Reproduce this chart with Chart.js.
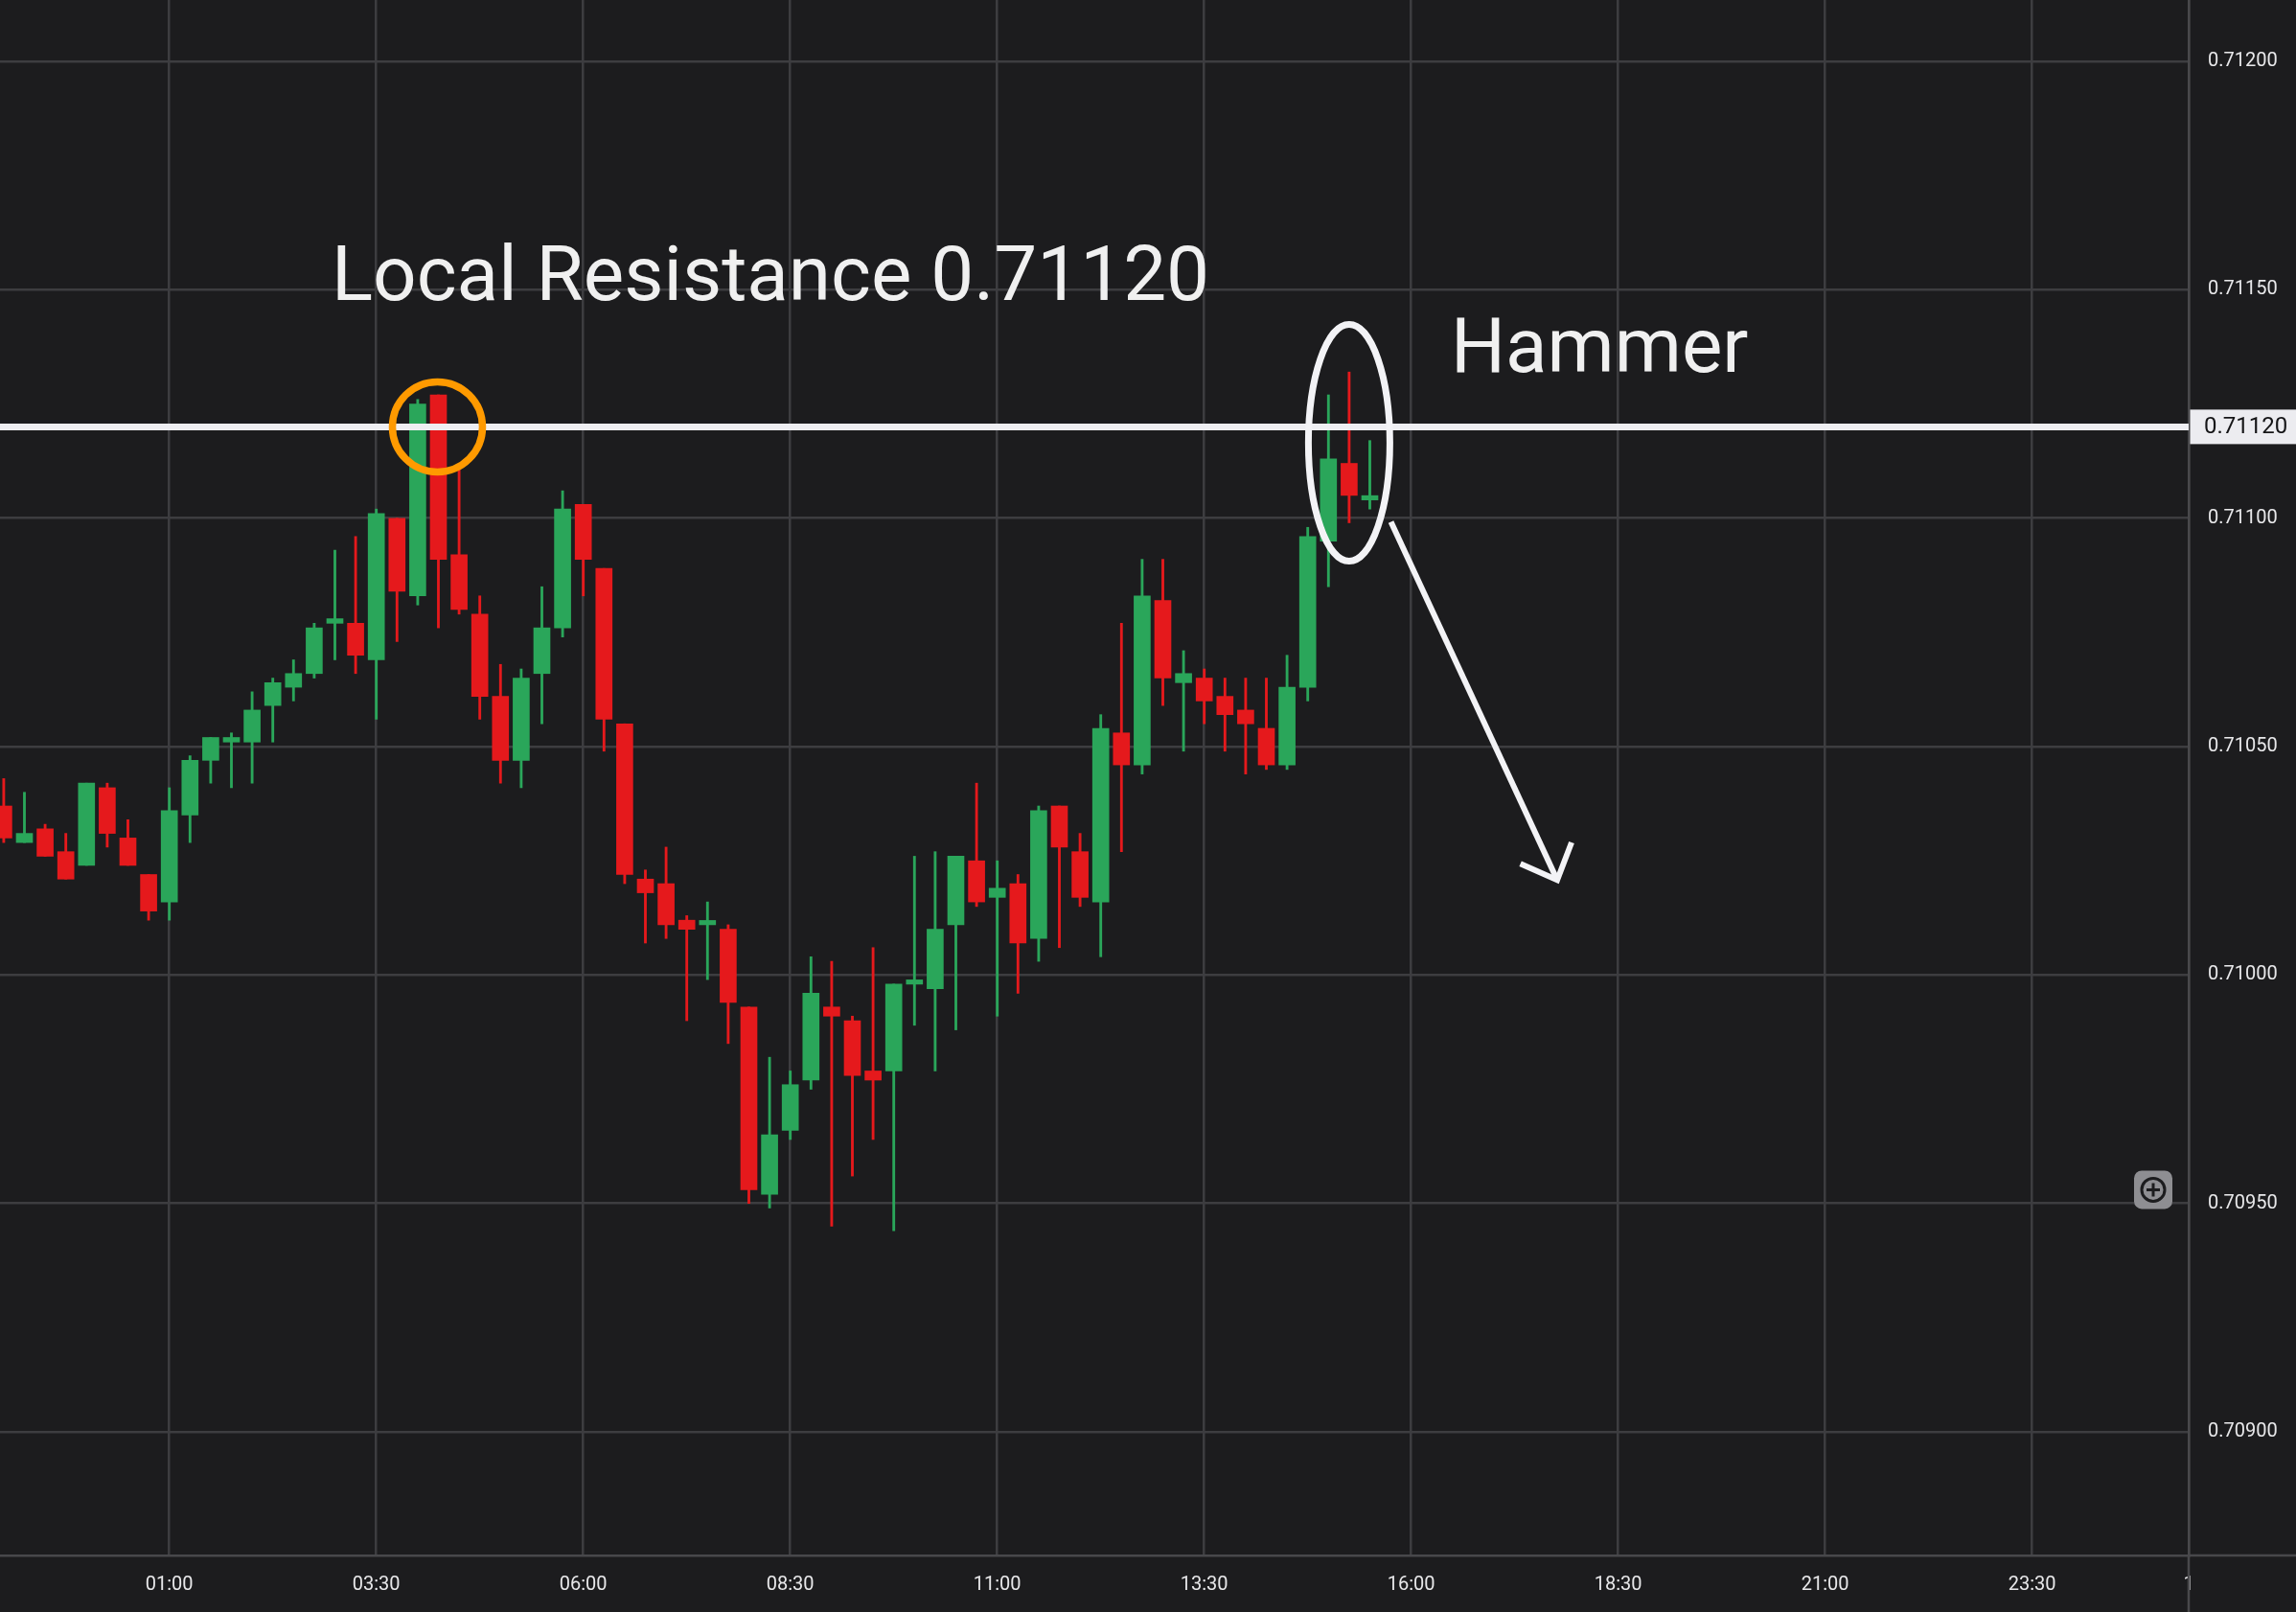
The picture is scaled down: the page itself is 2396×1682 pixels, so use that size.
<!DOCTYPE html>
<html>
<head>
<meta charset="utf-8">
<title>Local Resistance 0.71120 - Hammer</title>
<script src="https://cdn.jsdelivr.net/npm/chart.js@4.4.1/dist/chart.umd.min.js"></script>
<style>
  html, body { margin: 0; padding: 0; background: #1c1c1e; }
  #grafico { display: block; }
</style>
</head>
<body>
<canvas id="grafico" width="2396" height="1682"></canvas>
<script>
// 15 minute candles (the first four are from the day before)
const times = ['23:00','23:15','23:30','23:45','00:00','00:15','00:30','00:45','01:00','01:15','01:30','01:45',
  '02:00','02:15','02:30','02:45','03:00','03:15','03:30','03:45','04:00','04:15','04:30','04:45',
  '05:00','05:15','05:30','05:45','06:00','06:15','06:30','06:45','07:00','07:15','07:30','07:45',
  '08:00','08:15','08:30','08:45','09:00','09:15','09:30','09:45','10:00','10:15','10:30','10:45',
  '11:00','11:15','11:30','11:45','12:00','12:15','12:30','12:45','13:00','13:15','13:30','13:45',
  '14:00','14:15','14:30','14:45','15:00','15:15','15:30'];

const opens = [0.71037,0.71029,0.71032,0.71027,0.71024,0.71041,0.71030,0.71022,
  0.71016,0.71035,0.71047,0.71051,0.71051,0.71059,0.71063,0.71066,
  0.71077,0.71077,0.71069,0.71100,0.71083,0.71127,0.71092,0.71079,
  0.71061,0.71047,0.71066,0.71076,0.71103,0.71089,0.71055,0.71021,
  0.71020,0.71012,0.71011,0.71010,0.70993,0.70952,0.70966,0.70977,
  0.70993,0.70990,0.70979,0.70979,0.70998,0.70997,0.71011,0.71025,
  0.71017,0.71020,0.71008,0.71037,0.71027,0.71016,0.71053,0.71046,
  0.71082,0.71064,0.71065,0.71061,0.71058,0.71054,0.71046,0.71063,
  0.71095,0.71112,0.71104];

const highs = [0.71043,0.71040,0.71033,0.71031,0.71042,0.71042,0.71034,0.71022,
  0.71041,0.71048,0.71052,0.71053,0.71062,0.71065,0.71069,0.71077,
  0.71093,0.71096,0.71102,0.71100,0.71126,0.71127,0.71111,0.71083,
  0.71068,0.71067,0.71085,0.71106,0.71103,0.71089,0.71055,0.71023,
  0.71028,0.71013,0.71016,0.71011,0.70993,0.70982,0.70979,0.71004,
  0.71003,0.70991,0.71006,0.70998,0.71026,0.71027,0.71026,0.71042,
  0.71025,0.71022,0.71037,0.71037,0.71031,0.71057,0.71077,0.71091,
  0.71091,0.71071,0.71067,0.71065,0.71065,0.71065,0.71070,0.71098,
  0.71127,0.71132,0.71117];

const lows = [0.71029,0.71029,0.71026,0.71021,0.71024,0.71028,0.71024,0.71012,
  0.71012,0.71029,0.71042,0.71041,0.71042,0.71051,0.71060,0.71065,
  0.71069,0.71066,0.71056,0.71073,0.71081,0.71076,0.71079,0.71056,
  0.71042,0.71041,0.71055,0.71074,0.71083,0.71049,0.71020,0.71007,
  0.71008,0.70990,0.70999,0.70985,0.70950,0.70949,0.70964,0.70975,
  0.70945,0.70956,0.70964,0.70944,0.70989,0.70979,0.70988,0.71015,
  0.70991,0.70996,0.71003,0.71006,0.71015,0.71004,0.71027,0.71044,
  0.71059,0.71049,0.71055,0.71049,0.71044,0.71045,0.71045,0.71060,
  0.71085,0.71099,0.71102];

const closes = [0.71030,0.71031,0.71026,0.71021,0.71042,0.71031,0.71024,0.71014,
  0.71036,0.71047,0.71052,0.71052,0.71058,0.71064,0.71066,0.71076,
  0.71078,0.71070,0.71101,0.71084,0.71125,0.71091,0.71080,0.71061,
  0.71047,0.71065,0.71076,0.71102,0.71091,0.71056,0.71022,0.71018,
  0.71011,0.71010,0.71011,0.70994,0.70953,0.70965,0.70976,0.70996,
  0.70991,0.70978,0.70977,0.70998,0.70998,0.71010,0.71026,0.71016,
  0.71019,0.71007,0.71036,0.71028,0.71017,0.71054,0.71046,0.71083,
  0.71065,0.71066,0.71060,0.71057,0.71055,0.71046,0.71063,0.71096,
  0.71113,0.71105,0.71104];

// axis labels
const timeTicks = ['01:00','03:30','06:00','08:30','11:00','13:30','16:00','18:30','21:00','23:30'];
const edgeLabel = '1'; // cut off by the price axis
const priceTicks = [0.70900, 0.70950, 0.71000, 0.71050, 0.71100, 0.71150, 0.71200];
const resistance = 0.71120;

// colours
const BG = '#1c1c1e';
const GRID = '#3d3d40';
const AXIS = '#48484b';
const GREEN = '#2aa65a';
const RED = '#e5191c';
const TEXT = '#e8e8ea';

// visible window (minutes from midnight, prices)
const X_MIN = -62.7;
const X_MAX = 1523.4;
const Y_MIN = 0.7087294;
const Y_MAX = 0.7121344;

// "hh:mm" -> minutes from midnight
function toMinutes(t) {
  const [h, m] = t.split(':').map(Number);
  return h * 60 + m;
}

// candles before the first 00:00 belong to the previous day
const firstMidnight = times.indexOf('00:00');
const minutes = times.map((t, i) => i < firstMidnight ? toMinutes(t) - 1440 : toMinutes(t));
const candleColor = (ctx) => closes[ctx.dataIndex] >= opens[ctx.dataIndex] ? GREEN : RED;

// background of the whole canvas
const backgroundPlugin = {
  id: 'background',
  beforeDraw(chart) {
    const ctx = chart.ctx;
    ctx.save();
    ctx.fillStyle = BG;
    ctx.fillRect(0, 0, chart.width, chart.height);
    ctx.restore();
  }
};

// drawings made on top of the chart
const drawingsPlugin = {
  id: 'drawings',
  afterDatasetsDraw(chart) {
    const { ctx, chartArea, scales: { x, y } } = chart;
    const yRes = y.getPixelForValue(resistance);
    ctx.save();

    // resistance line
    ctx.strokeStyle = '#eeeef2';
    ctx.lineWidth = 7;
    ctx.beginPath();
    ctx.moveTo(chartArea.left, yRes);
    ctx.lineTo(chartArea.right, yRes);
    ctx.stroke();

    // orange circle on the top that touched the level
    const xTop = x.getPixelForValue(toMinutes('04:15')) - 1;
    ctx.strokeStyle = '#ff9a00';
    ctx.lineWidth = 7.5;
    ctx.beginPath();
    ctx.arc(xTop, yRes, 47, 0, Math.PI * 2);
    ctx.stroke();

    // ellipse around the hammer
    const xHam = x.getPixelForValue(toMinutes('15:15'));
    const yHam = y.getPixelForValue(0.711165);
    ctx.strokeStyle = '#f3f3f6';
    ctx.lineWidth = 7;
    ctx.beginPath();
    ctx.ellipse(xHam, yHam, 42.5, 123.5, 0, 0, Math.PI * 2);
    ctx.stroke();

    // arrow pointing down
    const x0 = x.getPixelForValue(945.3), y0 = y.getPixelForValue(0.710992);
    const x1 = x.getPixelForValue(1065.8), y1 = y.getPixelForValue(0.710208);
    const ang = Math.atan2(y1 - y0, x1 - x0);
    const head = 42;
    ctx.lineWidth = 6;
    ctx.lineCap = 'butt';
    ctx.lineJoin = 'miter';
    ctx.beginPath();
    ctx.moveTo(x0, y0);
    ctx.lineTo(x1, y1);
    ctx.stroke();
    ctx.beginPath();
    ctx.moveTo(x1 + head * Math.cos(ang + Math.PI - 0.72), y1 + head * Math.sin(ang + Math.PI - 0.72));
    ctx.lineTo(x1, y1);
    ctx.lineTo(x1 + head * Math.cos(ang + Math.PI + 0.80), y1 + head * Math.sin(ang + Math.PI + 0.80));
    ctx.stroke();

    // big labels
    ctx.fillStyle = '#f0f0f0';
    ctx.font = '80px Roboto';
    ctx.textAlign = 'left';
    ctx.textBaseline = 'alphabetic';
    ctx.fillText('Local Resistance 0.71120', x.getPixelForValue(177.6), y.getPixelForValue(0.711478));
    ctx.fillText('Hammer', x.getPixelForValue(988.7), y.getPixelForValue(0.711320));

    ctx.restore();
  },
  afterDraw(chart) {
    const { ctx, chartArea, scales: { y } } = chart;
    const yRes = y.getPixelForValue(resistance);
    ctx.save();

    // axis lines that run past the plot
    ctx.strokeStyle = AXIS;
    ctx.lineWidth = 2.5;
    ctx.beginPath();
    ctx.moveTo(chartArea.right, chartArea.bottom);
    ctx.lineTo(chart.width, chartArea.bottom);
    ctx.moveTo(chartArea.right, chartArea.bottom);
    ctx.lineTo(chartArea.right, chart.height);
    ctx.stroke();

    // price tag of the resistance line
    ctx.fillStyle = '#ececf0';
    ctx.fillRect(chartArea.right + 1.5, yRes - 18, chart.width - chartArea.right, 36);
    ctx.fillStyle = '#151517';
    ctx.font = '24px Roboto';
    ctx.textAlign = 'left';
    ctx.textBaseline = 'middle';
    ctx.fillText(resistance.toFixed(5), chartArea.right + 16, yRes + 1);

    // zoom button
    const bx = chartArea.right - 37, by = y.getPixelForValue(0.70953);
    ctx.fillStyle = '#8e8e92';
    ctx.beginPath();
    ctx.roundRect(bx - 20, by - 20, 40, 40, 8);
    ctx.fill();
    ctx.strokeStyle = '#1c1c1e';
    ctx.lineWidth = 3;
    ctx.beginPath();
    ctx.arc(bx, by, 12, 0, Math.PI * 2);
    ctx.moveTo(bx - 7, by);
    ctx.lineTo(bx + 7, by);
    ctx.moveTo(bx, by - 7);
    ctx.lineTo(bx, by + 7);
    ctx.stroke();

    ctx.restore();
  }
};

Chart.defaults.font.family = 'Roboto';

const ctx = document.getElementById('grafico').getContext('2d');
const chart = new Chart(ctx, {
  type: 'bar',
  data: {
    datasets: [
      {
        label: 'body',
        data: minutes.map((m, i) => ({ x: m, y: [opens[i], closes[i]] })),
        backgroundColor: candleColor,
        barThickness: 17,
        minBarLength: 4.5,
        grouped: false,
        borderWidth: 0
      },
      {
        label: 'wick',
        data: minutes.map((m, i) => ({ x: m, y: [lows[i], highs[i]] })),
        backgroundColor: candleColor,
        barThickness: 2.2,
        grouped: false,
        borderWidth: 0
      }
    ]
  },
  options: {
    responsive: false,
    animation: false,
    devicePixelRatio: 1,
    layout: { padding: 0 },
    plugins: {
      legend: { display: false },
      tooltip: { enabled: false }
    },
    scales: {
      x: {
        type: 'linear',
        min: X_MIN,
        max: X_MAX,
        offset: false,
        afterBuildTicks(scale) {
          scale.ticks = timeTicks.map(t => ({ value: toMinutes(t) })).concat([{ value: X_MAX }]);
        },
        afterFit(scale) {
          scale.height = 59;
          scale.paddingLeft = 0;
          scale.paddingRight = 0;
        },
        ticks: {
          autoSkip: false,
          maxRotation: 0,
          color: TEXT,
          font: { size: 20 },
          padding: 19,
          callback: (value, index) => index < timeTicks.length ? timeTicks[index] : edgeLabel
        },
        grid: { color: GRID, lineWidth: 2.5, drawTicks: false, offset: false },
        border: { display: true, color: AXIS, width: 2.5 }
      },
      y: {
        position: 'right',
        min: Y_MIN,
        max: Y_MAX,
        afterBuildTicks(scale) {
          scale.ticks = priceTicks.map(v => ({ value: v }));
        },
        afterFit(scale) {
          scale.width = 112;
          scale.paddingTop = 0;
          scale.paddingBottom = 0;
        },
        ticks: {
          color: TEXT,
          font: { size: 20 },
          padding: 20,
          callback: (value) => Number(value).toFixed(5)
        },
        grid: { color: GRID, lineWidth: 2.5, drawTicks: false },
        border: { display: true, color: AXIS, width: 2.5 }
      }
    }
  },
  plugins: [backgroundPlugin, drawingsPlugin]
});
</script>
</body>
</html>
